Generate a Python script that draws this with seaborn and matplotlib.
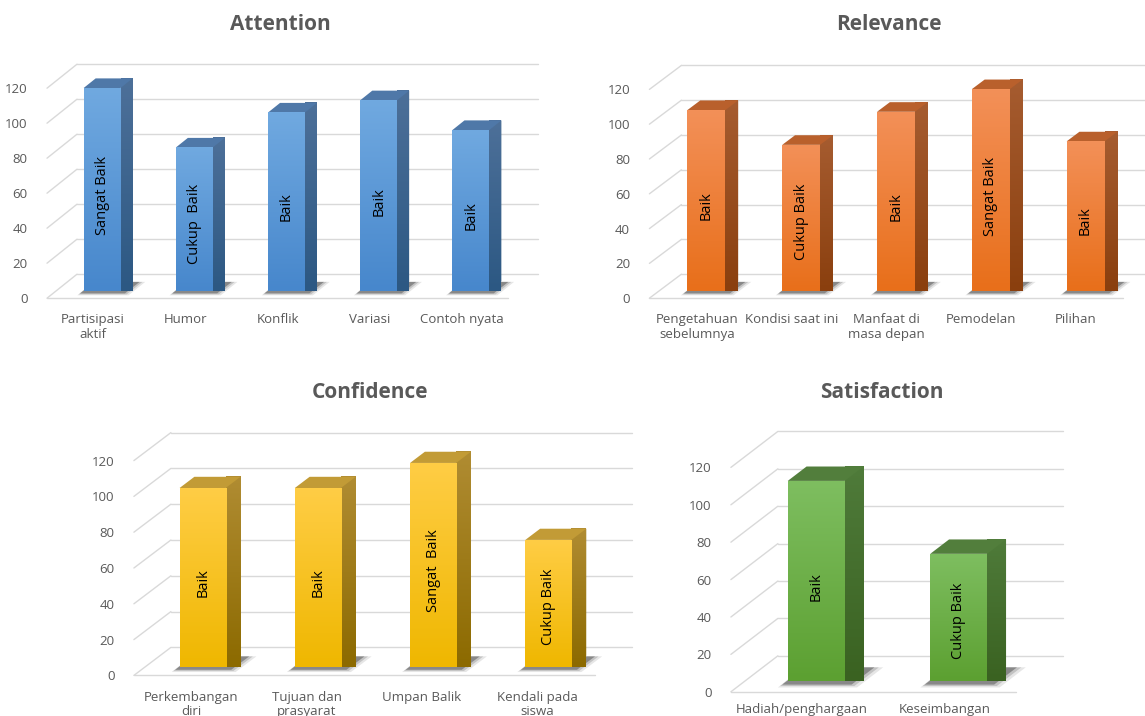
import numpy as np
import matplotlib
matplotlib.use("Agg")
import matplotlib.pyplot as plt
import matplotlib.transforms as mtransforms
from matplotlib.patches import Polygon
from matplotlib.colors import LinearSegmentedColormap
import seaborn as sns

# data
att_cats = ["Partisipasi\naktif", "Humor", "Konflik", "Variasi", "Contoh nyata"]
att_vals = [116, 82, 102, 109, 92]
att_lbls = ["Sangat Baik", "Cukup  Baik", "Baik", "Baik", "Baik"]

rel_cats = ["Pengetahuan\nsebelumnya", "Kondisi saat ini", "Manfaat di\nmasa depan", "Pemodelan", "Pilihan"]
rel_vals = [104, 84, 103, 116, 86]
rel_lbls = ["Baik", "Cukup Baik", "Baik", "Sangat Baik", "Baik"]

con_cats = ["Perkembangan\ndiri", "Tujuan dan\nprasyarat", "Umpan Balik", "Kendali pada\nsiswa"]
con_vals = [100, 100, 114, 71]
con_lbls = ["Baik", "Baik", "Sangat  Baik", "Cukup Baik"]

sat_cats = ["Hadiah/penghargaan", "Keseimbangan"]
sat_vals = [107, 68]
sat_lbls = ["Baik", "Cukup Baik"]

yticks = [0, 20, 40, 60, 80, 100, 120]

W, H = 1145, 716
sns.set_theme(style="white")
plt.rcParams["font.family"] = ["Open Sans", "DejaVu Sans"]

fig = plt.figure(figsize=(W / 100, H / 100), dpi=100)

GRID = "#d9d9d9"
TXT = "#595959"


def panel(cats, vals, lbls, title, left, y0, width, ppu, depth, colors, title_x, title_y, xpad=11):
    # colors: front_top, front_bottom, side_top, side_bottom, top
    n = len(cats)
    ax = fig.add_axes([left / W, (H - y0) / H, width / W, 120 * ppu / H])
    sns.barplot(x=cats, y=vals, ax=ax, width=0.4, color=colors[1], saturation=1,
                edgecolor="none", zorder=3)
    ax.set_xlim(-0.5, n - 0.5)
    ax.set_ylim(0, 120)
    ax.set_xlabel("")
    ax.set_ylabel("")
    for s in ax.spines.values():
        s.set_visible(False)

    pxx = width / n  # pixels per x unit
    tdx, tdy = depth
    fdx, fdy = 0.3 * tdx / pxx, 0.3 * tdy / ppu
    bdx, bdy = 0.7 * tdx / pxx, 0.7 * tdy / ppu
    sdx, sdy = 0.4 * tdx / pxx, 0.4 * tdy / ppu

    kw = dict(color=GRID, lw=1, clip_on=False, zorder=0)
    for v in yticks:
        ax.plot([-0.5 + bdx, n - 0.5 + bdx], [v + bdy, v + bdy], **kw)
        ax.plot([-0.5 - fdx, -0.5 + bdx], [v - fdy, v + bdy], **kw)
    ax.plot([-0.5 - fdx, n - 0.5 - fdx], [-fdy, -fdy], **kw)

    cmap_f = LinearSegmentedColormap.from_list("f", [colors[1], colors[0]])
    grad = np.linspace(0, 1, 100).reshape(-1, 1)
    for p, lab in zip(ax.patches, lbls):
        x0, w, h = p.get_x(), p.get_width(), p.get_height()
        # floor shadow
        for k, a in [(1.8, 0.12), (1.4, 0.2), (1.0, 0.4)]:
            ex = 0.12 * w * k
            shadow = [(x0 - ex * 0.8, -0.25 * sdy * k), (x0 + w + ex, -0.25 * sdy * k),
                      (x0 + w + sdx + ex * 1.6, sdy * 0.95), (x0 + sdx - ex * 0.3, sdy * 0.95)]
            ax.add_patch(Polygon(shadow, closed=True, fc="#333333", ec="none",
                                 alpha=a, zorder=1, clip_on=False))
        # side face
        side = [(x0 + w, 0), (x0 + w + sdx, sdy), (x0 + w + sdx, h + sdy), (x0 + w, h)]
        sp = Polygon(side, closed=True, fc=colors[3], ec="none", zorder=2, clip_on=False)
        ax.add_patch(sp)
        cmap_s = LinearSegmentedColormap.from_list("s", [colors[3], colors[2]])
        im = ax.imshow(grad, extent=[x0 + w, x0 + w + sdx, 0, h + sdy], origin="lower",
                       cmap=cmap_s, aspect="auto", zorder=2, clip_on=False)
        im.set_clip_path(sp)
        # top face
        top = [(x0, h), (x0 + w, h), (x0 + w + sdx, h + sdy), (x0 + sdx, h + sdy)]
        ax.add_patch(Polygon(top, closed=True, fc=colors[4], ec="none", zorder=3, clip_on=False))
        # front gradient
        im = ax.imshow(grad, extent=[x0, x0 + w, 0, h], origin="lower", cmap=cmap_f,
                       aspect="auto", zorder=4)
        im.set_clip_path(p)
        ax.text(x0 + w / 2, h * 0.47, lab, rotation=90, ha="center", va="center",
                fontsize=10.5, color="black", zorder=5)

    ax.set_xlim(-0.5, n - 0.5)
    ax.set_ylim(0, 120)
    ax.set_yticks(yticks)
    ax.tick_params(length=0, labelsize=9.5, labelcolor=TXT)
    ax.tick_params(axis="y", pad=14)
    ax.tick_params(axis="x", pad=xpad)
    off = mtransforms.ScaledTranslation(-0.3 * tdx / 100, -0.3 * tdy / 100, fig.dpi_scale_trans)
    for t in ax.get_yticklabels() + ax.get_xticklabels():
        t.set_transform(t.get_transform() + off)
    for t in ax.get_xticklabels():
        t.set_linespacing(1.15)

    fig.text(title_x / W, 1 - title_y / H, title, ha="center", va="center",
             fontsize=15, fontweight="bold", color=TXT)
    return ax


blue = ["#70a9e0", "#4787cc", "#4d7099", "#2c5883", "#4f78a8"]
orange = ["#f39058", "#e86f1a", "#a65c30", "#8a3f0e", "#b9602c"]
yellow = ["#ffcd45", "#efb700", "#b08c32", "#8c6a00", "#c29b36"]
green = ["#7ebe60", "#5ca031", "#4f7b3a", "#3a6221", "#527e3c"]

panel(att_cats, att_vals, att_lbls, "Attention", 56, 291, 461, 1.75, (30, 24), blue, 280, 25)
panel(rel_cats, rel_vals, rel_lbls, "Relevance", 659, 291, 474, 1.74, (32, 24), orange, 889, 25)
panel(con_cats, con_vals, con_lbls, "Confidence", 145, 667, 461, 1.79, (37, 28), yellow, 370, 392)
panel(sat_cats, sat_vals, sat_lbls, "Satisfaction", 745, 681, 285, 1.87, (47, 36), green, 882, 392, xpad=8)

fig.savefig("out.png", dpi=100)
